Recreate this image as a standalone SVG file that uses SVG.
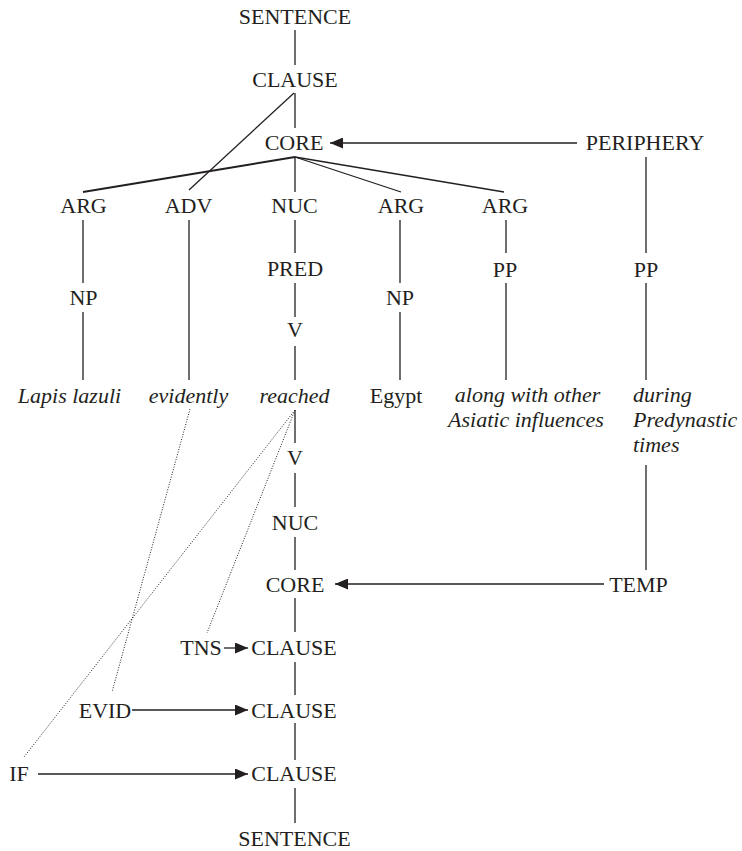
<svg xmlns="http://www.w3.org/2000/svg" width="742" height="851" viewBox="0 0 742 851">
  <style>
    text { font-family: "Liberation Serif", "Times New Roman", serif; font-size: 22px; fill: #231f20; text-anchor: middle; }
    text.it { font-style: italic; }
    text.left { text-anchor: start; }
    .edge { stroke: #231f20; stroke-width: 1.3; fill: none; }
    .bold { stroke-width: 1.9; }
    .dot { stroke: #231f20; stroke-width: 1; stroke-dasharray: 1 1.6; fill: none; }
    .arrow { stroke: #231f20; stroke-width: 1.3; fill: none; marker-end: url(#head); }
  </style>
  <defs>
    <marker id="head" viewBox="0 0 13 11" refX="13" refY="5.5" markerWidth="13" markerHeight="11" markerUnits="userSpaceOnUse" orient="auto">
      <path d="M0,0 L13,5.5 L0,11 Z" fill="#231f20"/>
    </marker>
  </defs>

  <!-- tree edges -->
  <g id="connectors">
    <line class="edge" x1="295" y1="30" x2="295" y2="65"/>
    <line class="edge" x1="295" y1="93" x2="295" y2="128"/>
    <line class="edge" x1="294" y1="93" x2="189" y2="190"/>
    <line class="edge bold" x1="295" y1="157" x2="83" y2="192"/>
    <line class="edge" x1="295" y1="157" x2="295" y2="192"/>
    <line class="edge" x1="295" y1="157" x2="401" y2="192"/>
    <line class="edge" x1="295" y1="157" x2="504" y2="192"/>
    <line class="edge" x1="83" y1="220" x2="83" y2="283"/>
    <line class="edge" x1="83" y1="312" x2="83" y2="380"/>
    <line class="edge" x1="189" y1="220" x2="189" y2="380"/>
    <line class="edge" x1="295" y1="220" x2="295" y2="253"/>
    <line class="edge" x1="295" y1="283" x2="295" y2="317"/>
    <line class="edge" x1="295" y1="346" x2="295" y2="380"/>
    <line class="edge" x1="400" y1="220" x2="400" y2="283"/>
    <line class="edge" x1="400" y1="312" x2="400" y2="380"/>
    <line class="edge" x1="506" y1="220" x2="506" y2="253"/>
    <line class="edge" x1="506" y1="283" x2="506" y2="380"/>
    <line class="edge" x1="646" y1="157" x2="646" y2="253"/>
    <line class="edge" x1="646" y1="283" x2="646" y2="380"/>
    <line class="edge" x1="295" y1="410" x2="295" y2="443"/>
    <line class="edge" x1="295" y1="473" x2="295" y2="507"/>
    <line class="edge" x1="295" y1="537" x2="295" y2="570"/>
    <line class="edge" x1="295" y1="598" x2="295" y2="632"/>
    <line class="edge" x1="295" y1="662" x2="295" y2="695"/>
    <line class="edge" x1="295" y1="723" x2="295" y2="760"/>
    <line class="edge" x1="295" y1="788" x2="295" y2="823"/>
    <line class="edge" x1="646" y1="465" x2="646" y2="570"/>
    <!-- arrows -->
    <line class="arrow" x1="577" y1="143" x2="330" y2="143"/>
    <line class="arrow" x1="604" y1="584" x2="335" y2="584"/>
    <line class="arrow" x1="224" y1="648" x2="248" y2="648"/>
    <line class="arrow" x1="132" y1="710" x2="248" y2="710"/>
    <line class="arrow" x1="38" y1="774" x2="248" y2="774"/>
    <!-- dotted links -->
    <line class="dot" x1="190" y1="409" x2="112" y2="692"/>
    <line class="dot" x1="295" y1="410" x2="24" y2="757"/>
    <line class="dot" x1="295" y1="410" x2="207" y2="633"/>
  </g>

  <!-- upper tree -->
  <g id="sentence-top"><text x="295" y="24">SENTENCE</text></g>
  <g id="clause-top"><text x="295" y="87">CLAUSE</text></g>
  <g id="core-top"><text x="294" y="150">CORE</text></g>
  <g id="periphery"><text x="645" y="150">PERIPHERY</text></g>
  <g id="arg1"><text x="83.5" y="213">ARG</text></g>
  <g id="adv"><text x="188.5" y="213">ADV</text></g>
  <g id="nuc-top"><text x="294.5" y="213">NUC</text></g>
  <g id="arg2"><text x="401" y="213">ARG</text></g>
  <g id="arg3"><text x="505" y="213">ARG</text></g>
  <g id="np1"><text x="83.5" y="305">NP</text></g>
  <g id="pred"><text x="295" y="276">PRED</text></g>
  <g id="np2"><text x="400" y="305">NP</text></g>
  <g id="pp1"><text x="505" y="277">PP</text></g>
  <g id="pp2"><text x="646" y="277">PP</text></g>
  <g id="v-top"><text x="295" y="337">V</text></g>

  <!-- words -->
  <g id="w-lapis"><text class="it" x="69.5" y="403">Lapis lazuli</text></g>
  <g id="w-evidently"><text class="it" x="188.5" y="403">evidently</text></g>
  <g id="w-reached"><text class="it" x="294.5" y="403">reached</text></g>
  <g id="w-egypt"><text x="396" y="403">Egypt</text></g>
  <g id="w-along">
    <text class="it" x="527.5" y="402">along with other</text>
    <text class="it" x="526" y="427">Asiatic influences</text>
  </g>
  <g id="w-during">
    <text class="it left" x="633" y="402">during</text>
    <text class="it left" x="633" y="427">Predynastic</text>
    <text class="it left" x="633" y="452">times</text>
  </g>

  <!-- lower tree -->
  <g id="v-low"><text x="295" y="465">V</text></g>
  <g id="nuc-low"><text x="295" y="530">NUC</text></g>
  <g id="core-low"><text x="295" y="592">CORE</text></g>
  <g id="temp"><text x="638.5" y="592">TEMP</text></g>
  <g id="clause-tns"><text x="294" y="655">CLAUSE</text></g>
  <g id="tns"><text x="201" y="655">TNS</text></g>
  <g id="clause-evid"><text x="294" y="718">CLAUSE</text></g>
  <g id="evid"><text x="105" y="718">EVID</text></g>
  <g id="clause-if"><text x="294" y="781">CLAUSE</text></g>
  <g id="if"><text x="19" y="781">IF</text></g>
  <g id="sentence-low"><text x="294.5" y="846">SENTENCE</text></g>
</svg>
